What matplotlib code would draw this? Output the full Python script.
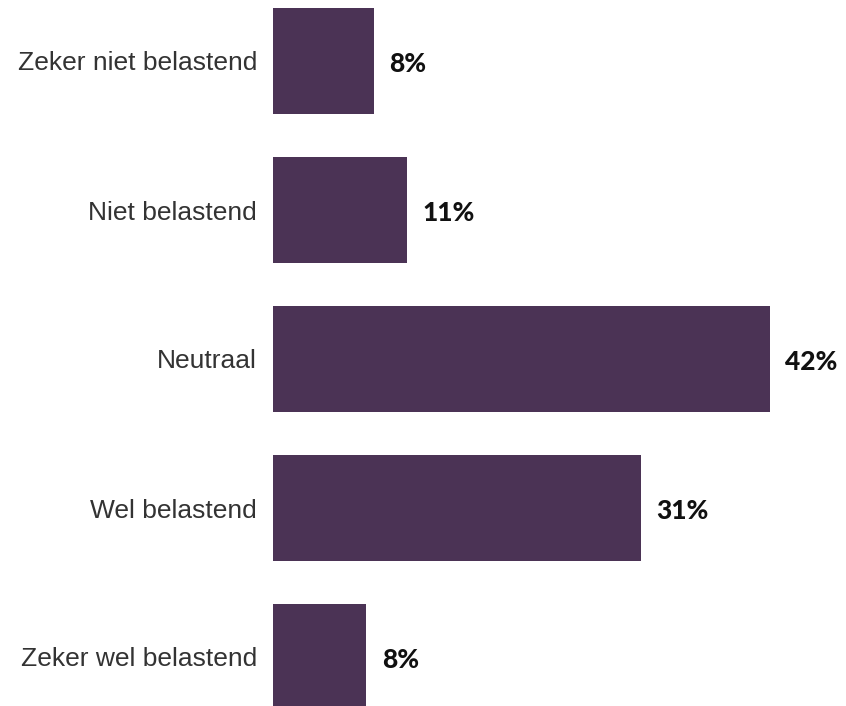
import matplotlib.pyplot as plt
import numpy as np

categories = ['Zeker niet belastend', 'Niet belastend', 'Neutraal', 'Wel belastend', 'Zeker wel belastend']
values = [8.5, 11.3, 42.0, 31.1, 7.9]
value_labels = ['8%', '11%', '42%', '31%', '8%']

bar_color = '#4b3355'

fig = plt.figure(figsize=(8.46, 7.06), dpi=100)
W, H = 846, 706
px_per_unit = 497 / 42
xmax = 50
# axes placed so bars start at x=273 px and rows are 149 px apart
ax = fig.add_axes([273 / W, -25.5 / H, xmax * px_per_unit / W, 745 / H])

y = np.arange(len(categories))
ax.barh(y, values, height=0.71, color=bar_color)
ax.set_xlim(0, xmax)
ax.set_ylim(4.5, -0.5)

for yi, v, lab in zip(y, values, value_labels):
    ax.annotate(lab, (v, yi), xytext=(11, -2), textcoords='offset points',
                ha='left', va='center', fontsize=19, fontweight='black',
                family='Lato', color='#111111')

ax.set_yticks(y)
ax.set_yticklabels(categories, fontsize=19, family='Liberation Sans', color='#333333')
ax.tick_params(axis='y', length=0, pad=11.5)
ax.set_xticks([])
for s in ax.spines.values():
    s.set_visible(False)

fig.savefig('out.png', dpi=100)
